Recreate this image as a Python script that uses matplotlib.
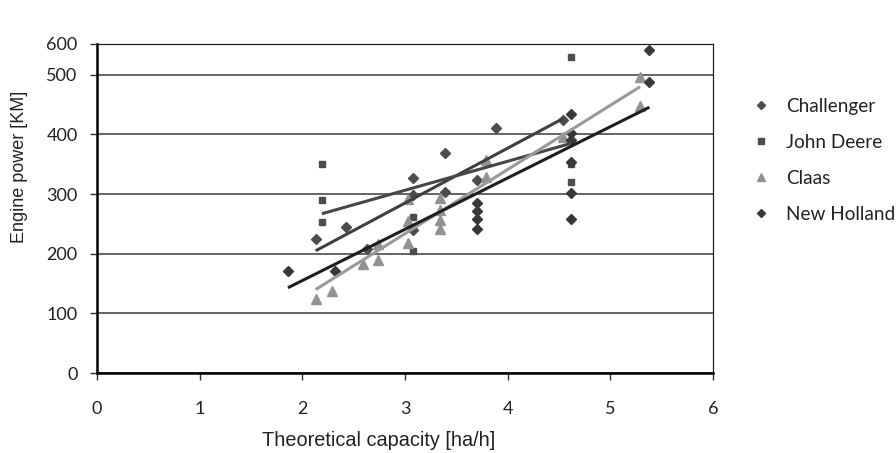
import numpy as np
import matplotlib
matplotlib.use("Agg")
import matplotlib.pyplot as plt

# data
series = ["Challenger", "John Deere", "Claas", "New Holland"]

chal_x = [2.13, 2.43, 2.63, 3.08, 3.08, 3.08, 3.39, 3.39, 3.70, 3.89, 4.54]
chal_y = [225, 245, 208, 327, 299, 240, 369, 304, 324, 411, 424]

jd_x = [2.19, 2.19, 2.19, 3.08, 3.08, 4.62, 4.62, 4.62]
jd_y = [351, 290, 253, 262, 205, 558, 350, 320]

claas_x = [2.13, 2.29, 2.59, 2.74, 2.74, 3.03, 3.03, 3.03, 3.34, 3.34, 3.34, 3.34,
           3.79, 3.79, 4.54, 5.29, 5.29]
claas_y = [124, 138, 183, 190, 217, 218, 255, 292, 293, 274, 257, 242,
           357, 329, 395, 497, 448]

nh_x = [1.86, 2.32, 3.70, 3.70, 3.70, 3.70, 4.62, 4.62, 4.62, 4.62, 4.62, 4.62,
        5.38, 5.38]
nh_y = [171, 171, 285, 272, 258, 241, 435, 403, 390, 354, 302, 258, 581, 488]

# linear trendlines (slope, intercept) as drawn in the chart
trend_slope = [92.0, 48.6, 107.6, 86.0]
trend_icept = [9.0, 160.6, -89.2, -17.0]

xs = [chal_x, jd_x, claas_x, nh_x]
ys = [chal_y, jd_y, claas_y, nh_y]
markers = ["D", "s", "^", "D"]
msizes = [4.8, 5.0, 6.5, 4.8]
mcolors = ["#4d4d4d", "#4d4d4d", "#929292", "#383838"]
lcolors = ["#404040", "#474747", "#9a9a9a", "#1e1e1e"]

# the band above 500 is squeezed in the source chart
top_k = 31 / 60


def fwd(v):
    v = np.asarray(v, dtype=float)
    return np.where(v <= 500, v, 500 + (v - 500) * top_k)


def inv(v):
    v = np.asarray(v, dtype=float)
    return np.where(v <= 500, v, 500 + (v - 500) / top_k)


fig = plt.figure(figsize=(8.96, 4.53), dpi=100)
ax = fig.add_axes([97 / 896, 1 - 373 / 453, 616 / 896, 329 / 453])
ax.set_yscale("function", functions=(fwd, inv))

for i in range(len(series)):
    ax.plot(xs[i], ys[i], linestyle="none", marker=markers[i], ms=msizes[i],
            color=mcolors[i], mec=mcolors[i], label=series[i], zorder=3)

for i in range(len(series)):
    x0, x1 = min(xs[i]), max(xs[i])
    lx = np.array([x0, x1])
    ax.plot(lx, trend_icept[i] + trend_slope[i] * lx, color=lcolors[i], lw=2.2,
            solid_capstyle="butt", zorder=4)

ax.set_xlim(0, 6)
ax.set_ylim(0, 600)
ax.set_xticks(range(0, 7))
ax.set_yticks(range(0, 601, 100))
ax.yaxis.grid(True, color="#3c3c3c", lw=1.1)
ax.set_axisbelow(True)

for s in ["top", "right"]:
    ax.spines[s].set_linewidth(0.9)
    ax.spines[s].set_color("#202020")
for s in ["left", "bottom"]:
    ax.spines[s].set_linewidth(1.8)
    ax.spines[s].set_color("black")

ax.tick_params(axis="both", direction="out", length=5, width=1, color="#303030",
               labelsize=13)
ax.tick_params(axis="y", pad=9)
ax.tick_params(axis="x", pad=15)
for lab in ax.get_xticklabels() + ax.get_yticklabels():
    lab.set_family("Lato")
    lab.set_color("#222222")

ax.set_xlabel("Theoretical capacity [ha/h]", family="Liberation Sans", fontsize=14.3,
              color="#222222", va="center")
ax.xaxis.set_label_coords((379 - 97) / 616, (373 - 441) / 329)
ax.set_ylabel("Engine power [KM]", family="Liberation Sans", fontsize=13,
              color="#222222", va="center")
ax.yaxis.set_label_coords((19 - 97) / 616, (373 - 167) / 329)

leg = ax.legend(loc="upper left", bbox_to_anchor=(740 / 896, 1 - 88 / 453),
                bbox_transform=fig.transFigure, frameon=False,
                prop={"family": "Lato", "size": 13.7}, handlelength=1.2,
                handletextpad=0.7, labelspacing=1.0, borderpad=0, numpoints=1,
                markerscale=0.85)
for t in leg.get_texts():
    t.set_color("#222222")

fig.savefig("out.png", dpi=100)
